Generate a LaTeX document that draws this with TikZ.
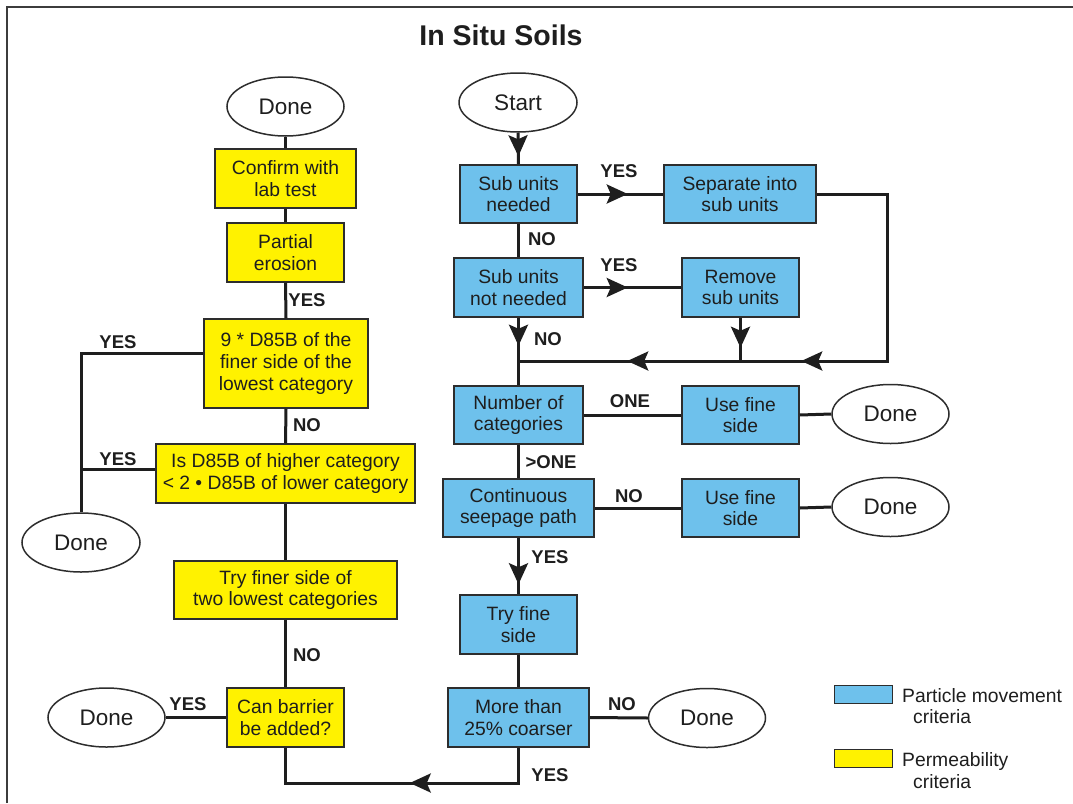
\documentclass[tikz,border=0pt]{standalone}
\usepackage{fontspec}
\setmainfont{Liberation Sans}
\usetikzlibrary{shapes.geometric,arrows.meta,decorations.markings}
\definecolor{boxblue}{RGB}{110,193,236}
\definecolor{boxyellow}{RGB}{255,242,0}
\definecolor{edgec}{RGB}{45,45,45}
\definecolor{txtc}{RGB}{30,30,30}
\definecolor{framec}{RGB}{60,60,60}
\tikzset{ftip/.tip={Stealth[length=21pt,width=19pt,inset=4pt]}}
\begin{document}
\begin{tikzpicture}[x=1pt,y=-1pt,
  base/.style={draw=edgec, line width=1.5pt, inner sep=0pt, align=center, text=txtc,
    font=\fontsize{19.3}{21.7}\selectfont},
  bluebox/.style={base, rectangle, fill=boxblue},
  yellowbox/.style={base, rectangle, fill=boxyellow},
  oval/.style={base, ellipse, fill=white, font=\fontsize{22.5}{24}\selectfont,
    minimum width=117pt, minimum height=59pt},
  wh/.style 2 args={minimum width=#1pt, minimum height=#2pt},
  lbl/.style={font=\bfseries\fontsize{18.5}{20}\selectfont, text=txtc, inner sep=0pt},
  legtext/.style={font=\fontsize{19.3}{21.7}\selectfont, text=txtc, inner sep=0pt, anchor=base west},
  legbox/.style={draw=edgec, line width=1pt, minimum width=58pt, minimum height=18pt, inner sep=0pt},
  conn/.style={draw=txtc, line width=3pt},
  arrowat/.style={postaction={decorate}, decoration={markings, mark=at position #1 with {\arrow{ftip}}}},
  arrowstwo/.style 2 args={postaction={decorate}, decoration={markings,
    mark=at position #1 with {\arrow{ftip}}, mark=at position #2 with {\arrow{ftip}}}}
]
\useasboundingbox (0,0) rectangle (1073,803);
\fill[white] (0,0) rectangle (1073,803);
\draw[line width=2pt, draw=framec] (7,803) -- (7,7) -- (1073,7);

% title
\node[font=\bfseries\fontsize{28.5}{30}\selectfont, text=txtc, inner sep=0pt] (title) at (501,35) {In Situ Soils};

% left column
\node[oval] (doneT) at (285.5,106.5) {Done};
\node[yellowbox, wh={141}{59}] (confirm) at (285.5,178.5) {Confirm with\\lab test};
\node[yellowbox, wh={117}{59}] (partial) at (285.5,252.5) {Partial\\erosion};
\node[yellowbox, wh={164}{89}] (nine) at (286,363.5) {9 * D85B of the\\finer side of the\\lowest category};
\node[yellowbox, wh={259}{59}] (isD) at (285.5,473.5) {Is D85B of higher category\\< 2 • D85B of lower category};
\node[yellowbox, wh={223}{58}] (tryfiner) at (285.5,590) {Try finer side of\\two lowest categories};
\node[yellowbox, wh={117}{59}] (barrier) at (285.5,717.5) {Can barrier\\be added?};
\node[oval, minimum width=118pt] (doneL) at (81,542.5) {Done};
\node[oval] (doneBL) at (106.5,717.5) {Done};

% right column
\node[oval, minimum width=118pt] (start) at (518,102.5) {Start};
\node[bluebox, wh={117}{58}] (subneed) at (518.5,194) {Sub units\\needed};
\node[bluebox, wh={152}{58}] (separate) at (740,194) {Separate into\\sub units};
\node[bluebox, wh={129}{59}] (subnot) at (518.5,287.5) {Sub units\\not needed};
\node[bluebox, wh={117}{59}] (remove) at (740.5,287.5) {Remove\\sub units};
\node[bluebox, wh={129}{58}] (numcat) at (518.5,415) {Number of\\categories};
\node[bluebox, wh={117}{58}] (usefine1) at (740.5,415) {Use fine\\side};
\node[oval] (done1) at (890.5,414) {Done};
\node[bluebox, wh={151}{58}] (contseep) at (518.5,508) {Continuous\\seepage path};
\node[bluebox, wh={117}{58}] (usefine2) at (740.5,508) {Use fine\\side};
\node[oval] (done2) at (890.5,507) {Done};
\node[bluebox, wh={117}{59}] (tryfine) at (518.5,624.5) {Try fine\\side};
\node[bluebox, wh={141}{59}] (more25) at (518.5,717.5) {More than\\25\% coarser};
\node[oval] (done3) at (707,718) {Done};

% helper coordinates
\coordinate (merge) at (518.5,361);
\coordinate (rturn) at (887,361);
\coordinate (br) at (518.5,783);
\coordinate (bl) at (285.5,783);

% left connectors
\draw[conn] (doneT.south) -- (confirm.north);
\draw[conn] (confirm.south) -- (partial.north);
\draw[conn] (partial.south) -- (nine.north);
\draw[conn] (nine.south) -- (isD.north);
\draw[conn] (isD.south) -- (tryfiner.north);
\draw[conn] (tryfiner.south) -- (barrier.north);
\draw[conn] (barrier.west) -- (doneBL.east);
\draw[conn] ([yshift=10.5pt]nine.west) -| (doneL.north);
\draw[conn] ([yshift=4.5pt]isD.west) -- ([yshift=4.5pt]isD.west -| doneL.north);

% right connectors
\draw[conn, arrowat=-8pt] (start.south) -- (subneed.north);
\draw[conn, arrowat=50pt] (subneed.east) -- (separate.west);
\draw[conn] (subneed.south) -- (subnot.north);
\draw[conn, arrowat=44pt] (subnot.east) -- (remove.west);
\draw[conn, arrowstwo={323pt}{497pt}] (separate.east) -| (rturn) -- (merge);
\draw[conn, arrowat=30pt] (remove.south) -- (remove.south |- merge);
\draw[conn, arrowat=28pt] (subnot.south) -- (numcat.north);
\draw[conn] (numcat.east) -- (usefine1.west);
\draw[conn] (usefine1.east) -- (done1.west);
\draw[conn] (numcat.south) -- (contseep.north);
\draw[conn] (contseep.east) -- (usefine2.west);
\draw[conn] (usefine2.east) -- (done2.west);
\draw[conn, arrowat=-10pt] (contseep.south) -- (tryfine.north);
\draw[conn] (tryfine.south) -- (more25.north);
\draw[conn] (more25.east) -- (done3.west);
\draw[conn, arrowat=144pt] (more25.south) -- (br) -- (bl) -- (barrier.south);

% labels
\node[lbl] (l1) at (307,300) {YES};
\node[lbl] (l2) at (118,342) {YES};
\node[lbl] (l3) at (307,425) {NO};
\node[lbl] (l4) at (118,459) {YES};
\node[lbl] (l5) at (307,655) {NO};
\node[lbl] (l6) at (188,704) {YES};
\node[lbl] (l7) at (619,171) {YES};
\node[lbl] (l8) at (542,239) {NO};
\node[lbl] (l9) at (619,265) {YES};
\node[lbl] (l10) at (548,339) {NO};
\node[lbl] (l11) at (630,401) {ONE};
\node[lbl] (l12) at (551,462) {>ONE};
\node[lbl] (l13) at (629,496) {NO};
\node[lbl] (l14) at (550,557) {YES};
\node[lbl] (l15) at (622,704.5) {NO};
\node[lbl] (l16) at (550,775) {YES};

% legend
\node[legbox, fill=boxblue] (legb) at (863,694) {};
\node[legbox, fill=boxyellow] (legy) at (863,758) {};
\node[legtext] (legbt1) at (902,702) {Particle movement};
\node[legtext] (legbt2) at (913,723) {criteria};
\node[legtext] (legyt1) at (902,766) {Permeability};
\node[legtext] (legyt2) at (913,788) {criteria};
\end{tikzpicture}
\end{document}
